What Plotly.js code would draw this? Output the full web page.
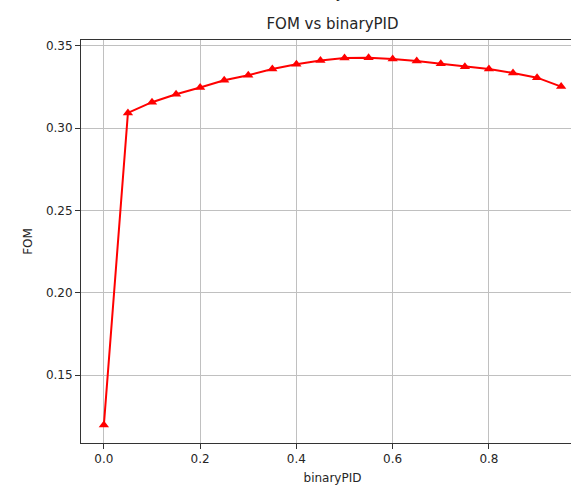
<!DOCTYPE html>
<html>
<head>
<meta charset="utf-8">
<script src="https://cdn.plot.ly/plotly-3.0.1.min.js"></script>
<style>
html,body{margin:0;padding:0;overflow:hidden;background:#fff;width:571px;height:485px;}
#chart{width:600px;height:485px;}
</style>
</head>
<body>
<div id="chart"></div>
<script>
const binaryPID = [0.0, 0.05, 0.1, 0.15, 0.2, 0.25, 0.3, 0.35, 0.4, 0.45, 0.5, 0.55, 0.6, 0.65, 0.7, 0.75, 0.8, 0.85, 0.9, 0.95];
const FOM = [0.1196, 0.3093, 0.3158, 0.3206, 0.3247, 0.3291, 0.3322, 0.3360, 0.3389, 0.3411, 0.3427, 0.3428, 0.3421, 0.3409, 0.3391, 0.3374, 0.3360, 0.3336, 0.3307, 0.3253];
const xTicks = [0.0, 0.2, 0.4, 0.6, 0.8];
const xTickText = ["0.0", "0.2", "0.4", "0.6", "0.8"];
const yTicks = [0.15, 0.20, 0.25, 0.30, 0.35];
const yTickText = ["0.15", "0.20", "0.25", "0.30", "0.35"];

const font = {family: "DejaVu Sans", color: "#262626"};

const trace = {
  x: binaryPID, y: FOM, type: "scatter", mode: "lines+markers",
  line: {color: "#ff0000", width: 2},
  marker: {symbol: "triangle-up", size: 9, color: "#ff0000"},
  showlegend: false,
  cliponaxis: false
};

const axisCommon = {
  showgrid: true, gridcolor: "#c0c0c0", gridwidth: 1,
  showline: true, linecolor: "#333333", linewidth: 1, mirror: true,
  ticks: "outside", ticklen: 5, tickcolor: "#333333", tickwidth: 1,
  zeroline: false,
  tickfont: {family: "DejaVu Sans", size: 12, color: "#262626"}
};

const layout = {
  width: 600, height: 485,
  margin: {l: 81, r: 16, t: 40, b: 42},
  paper_bgcolor: "#ffffff", plot_bgcolor: "#ffffff",
  font: font,
  title: {text: "FOM vs binaryPID", font: {family: "DejaVu Sans", size: 15, color: "#262626"},
          x: 0.5, xref: "paper", y: 1 - 24 / 485, yref: "container", yanchor: "middle"},
  xaxis: Object.assign({}, axisCommon, {
    range: [-0.0475, 0.9975], tickvals: xTicks, ticktext: xTickText,
    title: {text: "binaryPID", font: {family: "DejaVu Sans", size: 12, color: "#262626"}, standoff: 8}
  }),
  yaxis: Object.assign({}, axisCommon, {
    range: [0.1087, 0.3536], tickvals: yTicks, ticktext: yTickText,
    title: {text: "FOM", font: {family: "DejaVu Sans", size: 12, color: "#262626"}, standoff: 10}
  }),
  annotations: [{
    text: "binaryPID", xref: "paper", yref: "paper", x: 0.5, y: 1.116,
    yanchor: "middle", showarrow: false,
    font: {family: "DejaVu Sans", size: 15, color: "#262626"}
  }]
};

Plotly.newPlot("chart", [trace], layout, {staticPlot: true, displayModeBar: false});
</script>
</body>
</html>
